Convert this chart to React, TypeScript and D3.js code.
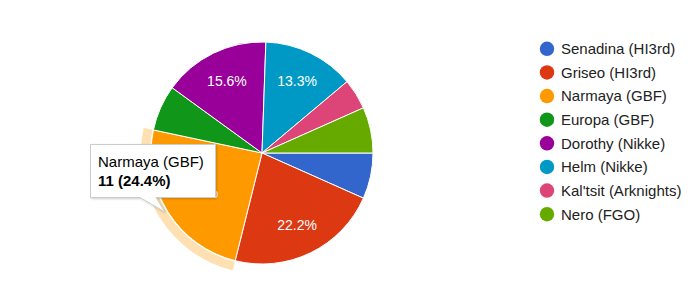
import React from "react";
import * as d3 from "d3";

const categories = [
  "Senadina (HI3rd)",
  "Griseo (HI3rd)",
  "Narmaya (GBF)",
  "Europa (GBF)",
  "Dorothy (Nikke)",
  "Helm (Nikke)",
  "Kal'tsit (Arknights)",
  "Nero (FGO)",
];
const values = [3, 10, 11, 3, 7, 6, 2, 3];
const colors = ["#3366cc", "#dc3912", "#ff9900", "#109618", "#990099", "#0099c6", "#dd4477", "#66aa00"];
const highlighted = 2;

const W = 690;
const H = 287;
const cx = 262;
const cy = 153;
const R = 111;
const FONT = "Arial, 'Liberation Sans', sans-serif";

export default function App() {
  const total = d3.sum(values);
  const pie = d3
    .pie<number>()
    .sort(null)
    .startAngle(Math.PI / 2)
    .endAngle(Math.PI / 2 + 2 * Math.PI)(values);
  const arc = d3.arc<d3.PieArcDatum<number>>().innerRadius(0).outerRadius(R);
  const ring = d3.arc<d3.PieArcDatum<number>>().innerRadius(R + 1).outerRadius(R + 10);
  const labelArc = d3.arc<d3.PieArcDatum<number>>().innerRadius(80).outerRadius(80);
  const labelArcHl = d3.arc<d3.PieArcDatum<number>>().innerRadius(75).outerRadius(75);
  const pct = (v: number) => ((v / total) * 100).toFixed(1) + "%";
  const hl = pie[highlighted];

  const legendY = d3.scalePoint<number>().domain(d3.range(categories.length)).range([48.8, 214.2]);

  return (
    <div style={{ position: "absolute", left: 0, top: 0 }}>
      <svg width={W} height={H} style={{ display: "block", fontFamily: FONT }}>
        <defs>
          <filter id="sh" x="-20%" y="-20%" width="140%" height="150%">
            <feDropShadow dx="1" dy="1" stdDeviation="1.2" floodColor="#000" floodOpacity="0.2" />
          </filter>
        </defs>
        <rect width={W} height={H} fill="#fff" />
        <g transform={`translate(${cx},${cy})`}>
          <path d={ring(hl) || ""} fill={colors[highlighted]} fillOpacity={0.3} />
          {pie.map((d, i) => (
            <path key={i} d={arc(d) || ""} fill={colors[i]} stroke="#fff" strokeWidth={1} />
          ))}
          {pie.map((d, i) => {
            if (d.value / total < 0.1) return null;
            const [x, y] = (i === highlighted ? labelArcHl : labelArc).centroid(d);
            return (
              <text key={i} x={x} y={y + 5} textAnchor="middle" fontSize={14} fill="#fff">
                {pct(d.value)}
              </text>
            );
          })}
        </g>
        <g>
          {categories.map((c, i) => (
            <g key={i}>
              <circle cx={547} cy={legendY(i)!} r={7.2} fill={colors[i]} />
              <text x={561} y={legendY(i)! + 5.3} fontSize={15} fill="#222">
                {c}
              </text>
            </g>
          ))}
        </g>
        <g>
          <path
            d="M90.5,144.5 H215.5 V197.5 H156 L165,212 L140,197.5 H90.5 Z"
            fill="#fff"
            stroke="#ccc"
            strokeWidth={1}
            filter="url(#sh)"
          />
          <text x={98} y={167} fontSize={15} fill="#000">
            {categories[highlighted]}
          </text>
          <text x={98} y={185.5} fontSize={15} fill="#000" fontWeight="bold">
            {`${values[highlighted]} (${pct(values[highlighted])})`}
          </text>
        </g>
      </svg>
    </div>
  );
}
